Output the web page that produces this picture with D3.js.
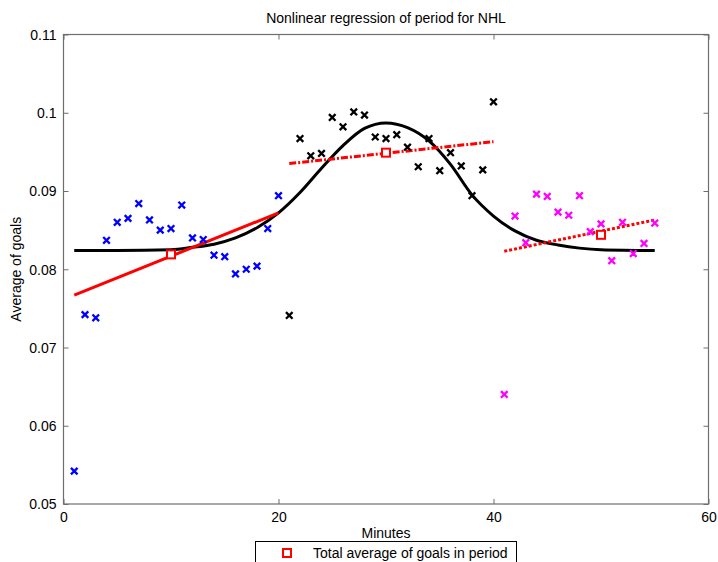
<!DOCTYPE html>
<html>
<head>
<meta charset="utf-8">
<script src="https://cdn.jsdelivr.net/npm/d3@7"></script>
<style>
html,body{margin:0;padding:0;background:#fff;}
svg{display:block;font-family:"Liberation Sans",Arial,Helvetica,sans-serif;}
</style>
</head>
<body>
<svg id="chart" width="718" height="562"></svg>
<script>
// ---- data ----
const period1Minutes = [1,2,3,4,5,6,7,8,9,10,11,12,13,14,15,16,17,18,19,20];
const period1Goals = [0.0542,0.0742,0.0738,0.0837,0.0860,0.0865,0.0884,0.0863,0.0850,0.0852,0.0882,0.0840,0.0838,0.0818,0.0816,0.0794,0.0800,0.0804,0.0852,0.0894];
const period2Minutes = [21,22,23,24,25,26,27,28,29,30,31,32,33,34,35,36,37,38,39,40];
const period2Goals = [0.0741,0.0967,0.0945,0.0948,0.0994,0.0982,0.1001,0.0997,0.0969,0.0967,0.0972,0.0956,0.0931,0.0967,0.0926,0.0949,0.0932,0.0894,0.0927,0.1014];
const period3Minutes = [41,42,43,44,45,46,47,48,49,50,51,52,53,54,55];
const period3Goals = [0.0640,0.0868,0.0834,0.0896,0.0893,0.0873,0.0869,0.0894,0.0848,0.0858,0.0811,0.0860,0.0820,0.0833,0.0859];

const periodAvgMinutes = [10,30,50];
const periodAvgGoals = [0.0819,0.0949,0.0844];

// linear fits per period (endpoints)
const fit1Minutes = [1,20];   const fit1Goals = [0.0767,0.0872];
const fit2Minutes = [21,40];  const fit2Goals = [0.0935,0.0963];
const fit3Minutes = [41,55];  const fit3Goals = [0.0823,0.0863];

// nonlinear regression curve
const curveMinutes = [1,5,10,12,14,16,18,20,22,24,26,28,30,32,34,36,38,40,42,44,46,48,50,55];
const curveGoals = [0.0824,0.0824,0.0825,0.0828,0.0832,0.0840,0.0853,0.0872,0.0898,0.0929,0.0958,0.0980,0.0987,0.0981,0.0964,0.0934,0.0895,0.0868,0.0849,0.0837,0.0831,0.0827,0.0825,0.0824];

const xTicks = [0,20,40,60];
const yTicks = [0.05,0.06,0.07,0.08,0.09,0.1,0.11];
const yTickLabels = ["0.05","0.06","0.07","0.08","0.09","0.1","0.11"];

const titleText = "Nonlinear regression of period for NHL";
const xLabel = "Minutes";
const yLabel = "Average of goals";
const legendLabel = "Total average of goals in period";

// ---- drawing ----
const svg = d3.select("#chart");
const L = 63.5, R = 708.5, T = 34.5, B = 504;
const x = d3.scaleLinear().domain([0,60]).range([L,R]);
const y = d3.scaleLinear().domain([0.05,0.11]).range([B,T]);

// frame
const axisColor = "#6e6e6e";
svg.append("rect").attr("x",L).attr("y",T).attr("width",R-L).attr("height",B-T)
  .attr("fill","#fff").attr("stroke",axisColor).attr("stroke-width",1.2);

// ticks (inward) via d3 axes
const fontSize = 14;
const bottomAxis = svg.append("g").attr("transform",`translate(0,${B})`)
  .call(d3.axisBottom(x).tickValues(xTicks).tickSizeInner(-5).tickSizeOuter(0).tickPadding(8));
const topAxis = svg.append("g").attr("transform",`translate(0,${T})`)
  .call(d3.axisTop(x).tickValues(xTicks).tickSizeInner(-5).tickSizeOuter(0).tickFormat(""));
const leftAxis = svg.append("g").attr("transform",`translate(${L},0)`)
  .call(d3.axisLeft(y).tickValues(yTicks).tickSizeInner(-5).tickSizeOuter(0).tickPadding(7)
    .tickFormat((d,i)=>yTickLabels[i]));
const rightAxis = svg.append("g").attr("transform",`translate(${R},0)`)
  .call(d3.axisRight(y).tickValues(yTicks).tickSizeInner(-5).tickSizeOuter(0).tickFormat(""));
[bottomAxis,topAxis,leftAxis,rightAxis].forEach(g=>{
  g.select(".domain").remove();
  g.selectAll(".tick line").attr("stroke",axisColor).attr("stroke-width",1);
  g.selectAll(".tick text").attr("fill","#000").style("font-size",fontSize+"px")
    .style("font-family","'Liberation Sans',Arial,sans-serif");
});
leftAxis.selectAll(".tick text").attr("dy","0.35em");

// lines
const line = d3.line().x(d=>x(d[0])).y(d=>y(d[1]));
const zip = (a,b)=>a.map((v,i)=>[v,b[i]]);

// regression curve
svg.append("path").datum(zip(curveMinutes,curveGoals))
  .attr("d", d3.line().x(d=>x(d[0])).y(d=>y(d[1])).curve(d3.curveMonotoneX))
  .attr("fill","none").attr("stroke","#000").attr("stroke-width",3);

// linear fits
svg.append("path").datum(zip(fit1Minutes,fit1Goals)).attr("d",line)
  .attr("fill","none").attr("stroke","#ff0000").attr("stroke-width",3);
svg.append("path").datum(zip(fit2Minutes,fit2Goals)).attr("d",line)
  .attr("fill","none").attr("stroke","#ff0000").attr("stroke-width",3)
  .attr("stroke-dasharray","7,2,2,2");
svg.append("path").datum(zip(fit3Minutes,fit3Goals)).attr("d",line)
  .attr("fill","none").attr("stroke","#ff0000").attr("stroke-width",3)
  .attr("stroke-dasharray","3,2");

// crosses
function crosses(xs, ys, color){
  const s = 3.3;
  const g = svg.append("g");
  g.selectAll("path").data(zip(xs,ys)).enter().append("path")
    .attr("d", d=>{const cx=x(d[0]), cy=y(d[1]);
      return `M${cx-s},${cy-s}L${cx+s},${cy+s}M${cx-s},${cy+s}L${cx+s},${cy-s}`;})
    .attr("stroke",color).attr("stroke-width",2.3).attr("fill","none");
}
crosses(period1Minutes,period1Goals,"#0000ff");
crosses(period2Minutes,period2Goals,"#000000");
crosses(period3Minutes,period3Goals,"#ff00ff");

// period averages
svg.append("g").selectAll("rect").data(zip(periodAvgMinutes,periodAvgGoals)).enter().append("rect")
  .attr("x",d=>x(d[0])-4).attr("y",d=>y(d[1])-4).attr("width",8).attr("height",8)
  .attr("fill","#fff").attr("stroke","#ff0000").attr("stroke-width",2);

// title and labels
svg.append("text").attr("x",(L+R)/2).attr("y",23).attr("text-anchor","middle")
  .style("font-size",fontSize+"px").text(titleText);
svg.append("text").attr("x",(L+R)/2).attr("y",538).attr("text-anchor","middle")
  .style("font-size",fontSize+"px").text(xLabel);
svg.append("text").attr("transform",`translate(21,${(T+B)/2}) rotate(-90)`).attr("text-anchor","middle")
  .style("font-size",fontSize+"px").text(yLabel);

// legend
const lg = svg.append("g");
lg.append("rect").attr("x",255.5).attr("y",541.5).attr("width",261).attr("height",40)
  .attr("fill","#fff").attr("stroke","#000").attr("stroke-width",1);
lg.append("rect").attr("x",283).attr("y",549).attr("width",8).attr("height",8)
  .attr("fill","#fff").attr("stroke","#ff0000").attr("stroke-width",2);
lg.append("text").attr("x",313).attr("y",558).style("font-size",fontSize+"px").text(legendLabel);
</script>
</body>
</html>
